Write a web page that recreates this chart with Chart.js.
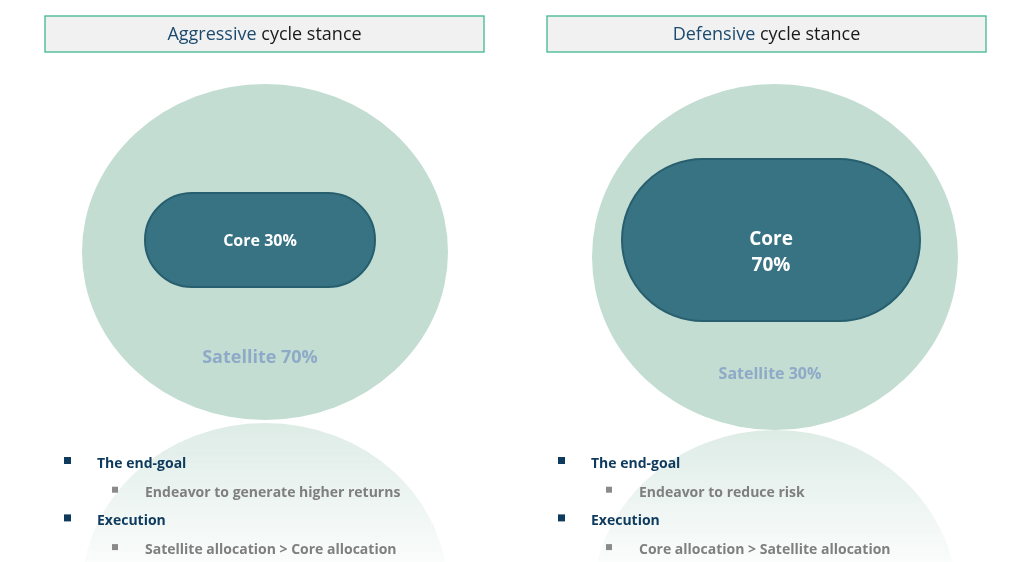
<!DOCTYPE html>
<html><head><meta charset="utf-8">
<script src="https://cdn.jsdelivr.net/npm/chart.js@4"></script>
<style>html,body{margin:0;padding:0;background:#fff}#c{display:block}</style>
</head><body>
<div style="width:1015px;height:562px"><canvas id="c"></canvas></div>
<script>
const stances = ['Aggressive', 'Defensive'];
const coreShare = [30, 70];
const satelliteShare = [70, 30];
const goals = ['Endeavor to generate higher returns', 'Endeavor to reduce risk'];
const executions = ['Satellite allocation > Core allocation', 'Core allocation > Satellite allocation'];

// layout (positions in canvas units)
const panels = [
  {box:[45,16,484,52], cx:265, cy:252, rx:183, ry:168, pill:[145,193,375,287], coreLines:1, coreY:241, coreFont:16, satY:358, satFont:18, refTop:423, listX:67},
  {box:[547,16,986,52], cx:775, cy:257, rx:183, ry:173, pill:[622,159,920,321], coreLines:2, coreY:253, coreFont:19, satY:374, satFont:16, refTop:430, listX:561}
];

const fam = '"Open Sans","Noto Sans",Lato,sans-serif';

const drawPlugin = {
  id: 'infographic',
  afterDraw(chart) {
    const ctx = chart.ctx, X = v => chart.scales.x.getPixelForValue(v), Y = v => chart.scales.y.getPixelForValue(v);
    stances.forEach((name, i) => {
      const p = panels[i];
      ctx.save();
      // header box
      ctx.fillStyle = '#f1f1f1'; ctx.strokeStyle = '#3fb88c'; ctx.lineWidth = 1.3;
      ctx.fillRect(X(p.box[0]), Y(p.box[1]), X(p.box[2]) - X(p.box[0]), Y(p.box[3]) - Y(p.box[1]));
      ctx.strokeRect(X(p.box[0]), Y(p.box[1]), X(p.box[2]) - X(p.box[0]), Y(p.box[3]) - Y(p.box[1]));
      ctx.font = '18px ' + fam; ctx.textBaseline = 'middle';
      const t1 = name, t2 = ' cycle stance';
      const w1 = ctx.measureText(t1).width, w2 = ctx.measureText(t2).width;
      const mx = (X(p.box[0]) + X(p.box[2])) / 2, my = (Y(p.box[1]) + Y(p.box[3])) / 2 + 1;
      ctx.textAlign = 'left';
      ctx.fillStyle = '#1b4a6e'; ctx.fillText(t1, mx - (w1 + w2) / 2, my);
      ctx.fillStyle = '#1a1a1a'; ctx.fillText(t2, mx - (w1 + w2) / 2 + w1, my);
      // reflection
      const rt = Y(p.refTop);
      const g = ctx.createLinearGradient(0, rt, 0, Y(562));
      g.addColorStop(0, 'rgba(194,220,210,0.55)'); g.addColorStop(1, 'rgba(194,220,210,0.08)');
      ctx.fillStyle = g;
      ctx.beginPath(); ctx.ellipse(X(p.cx), rt + (Y(p.cy) - Y(p.cy - p.ry)), X(p.cx + p.rx) - X(p.cx), Y(p.cy + p.ry) - Y(p.cy), 0, 0, Math.PI * 2); ctx.fill();
      // circle
      ctx.fillStyle = '#c3ddd3';
      ctx.beginPath(); ctx.ellipse(X(p.cx), Y(p.cy), X(p.cx + p.rx) - X(p.cx), Y(p.cy + p.ry) - Y(p.cy), 0, 0, Math.PI * 2); ctx.fill();
      // pill
      const [l, t, r, b] = [X(p.pill[0]), Y(p.pill[1]), X(p.pill[2]), Y(p.pill[3])];
      const rad = (b - t) / 2;
      ctx.beginPath(); ctx.roundRect(l, t, r - l, b - t, rad);
      ctx.fillStyle = '#387383'; ctx.fill(); ctx.strokeStyle = '#285f6e'; ctx.lineWidth = 2; ctx.stroke();
      ctx.fillStyle = '#ffffff'; ctx.textAlign = 'center'; ctx.font = 'bold ' + p.coreFont + 'px ' + fam;
      const pcx = (l + r) / 2;
      if (p.coreLines === 1) ctx.fillText('Core ' + coreShare[i] + '%', pcx, Y(p.coreY));
      else { ctx.fillText('Core', pcx, Y(p.coreY) - 13); ctx.fillText(coreShare[i] + '%', pcx, Y(p.coreY) + 13); }
      ctx.fillStyle = '#8eaac6'; ctx.font = 'bold ' + p.satFont + 'px ' + fam;
      ctx.fillText('Satellite ' + satelliteShare[i] + '%', X(p.cx) - 5, Y(p.satY));
      // bullets
      const items = [['The end-goal', 0], [goals[i], 1], ['Execution', 0], [executions[i], 1]];
      items.forEach(([txt, lvl], k) => {
        const y = Y(464 + k * 28.7);
        ctx.textAlign = 'left'; ctx.font = 'bold 14px ' + fam;
        if (lvl === 0) {
          ctx.fillStyle = '#0e3a5e'; ctx.fillRect(X(p.listX) - 3, y - 7, 7, 7);
          ctx.fillText(txt, X(p.listX + 30), y);
        } else {
          ctx.fillStyle = '#8a8a8a'; ctx.fillRect(X(p.listX + 45), y - 6, 6, 6);
          ctx.fillStyle = '#7f7f7f'; ctx.fillText(txt, X(p.listX + 78), y);
        }
      });
      ctx.restore();
    });
  }
};

new Chart(document.getElementById('c'), {
  type: 'scatter',
  data: { datasets: [{ data: [] }] },
  options: {
    responsive: true, maintainAspectRatio: false, animation: false,
    layout: { padding: 0 },
    plugins: { legend: { display: false }, tooltip: { enabled: false } },
    scales: {
      x: { type: 'linear', min: 0, max: 1015, display: false },
      y: { type: 'linear', min: 0, max: 562, reverse: true, display: false }
    }
  },
  plugins: [drawPlugin]
});
</script>
</body></html>
